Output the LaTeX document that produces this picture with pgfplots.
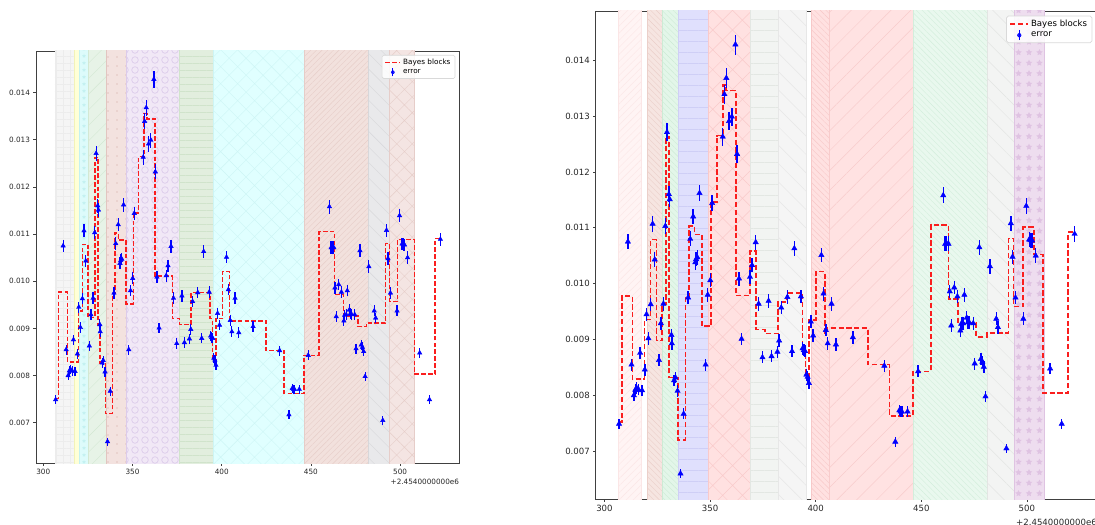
\documentclass[border=0pt]{standalone}
\usepackage{fontspec}
\setmainfont{DejaVu Sans}
\usepackage{pgfplots}
\pgfplotsset{compat=1.18}
\usepackage{pgfplotstable}
\usetikzlibrary{patterns.meta}

\pgfdeclarepattern{
  name=rings,
  bottom left={\pgfpoint{-0.5bp}{-0.5bp}},
  top right={\pgfpoint{10.5bp}{10.5bp}},
  tile size={\pgfpoint{10bp}{10bp}},
  code={\pgfsetlinewidth{0.7bp}\pgfpathcircle{\pgfpoint{5bp}{5bp}}{3.3bp}\pgfusepath{stroke}}
}

\definecolor{bb}{RGB}{250,30,30}
\definecolor{eb}{RGB}{0,0,255}
% left spans
\definecolor{LaF}{HTML}{F5F5F5}\definecolor{LaP}{HTML}{ECECEC}
\definecolor{LbF}{HTML}{FFFFD6}\definecolor{LbP}{HTML}{F2F2B8}
\definecolor{LcF}{HTML}{DDFBFB}\definecolor{LcP}{HTML}{C4F1F1}
\definecolor{LdF}{HTML}{E7F3E7}\definecolor{LdP}{HTML}{D3E8D3}
\definecolor{LeF}{HTML}{F3E2DF}\definecolor{LeP}{HTML}{E2C5C0}
\definecolor{LfF}{HTML}{F1E8F6}\definecolor{LfP}{HTML}{DCCBEA}
\definecolor{LgF}{HTML}{E2EEDE}\definecolor{LgP}{HTML}{D0E3CB}
\definecolor{LhF}{HTML}{E0FFFF}\definecolor{LhP}{HTML}{CDF5F5}
\definecolor{LiF}{HTML}{F2E1DD}\definecolor{LiP}{HTML}{E6CDC8}
\definecolor{LjF}{HTML}{E9E9EB}\definecolor{LjP}{HTML}{D7D7DA}
\definecolor{LkF}{HTML}{F4E5E3}\definecolor{LkP}{HTML}{E6CDC9}
% right spans
\definecolor{RaF}{HTML}{FFF4F4}\definecolor{RaP}{HTML}{FBE6E6}
\definecolor{RbF}{HTML}{F6E5E1}\definecolor{RbP}{HTML}{EBCFC9}
\definecolor{RcF}{HTML}{E3F6E9}\definecolor{RcP}{HTML}{CDEBD5}
\definecolor{RdF}{HTML}{E0E0FD}\definecolor{RdP}{HTML}{CFCFF6}
\definecolor{ReF}{HTML}{FFE1E1}\definecolor{ReP}{HTML}{F9CACA}
\definecolor{RfF}{HTML}{F2F4F2}\definecolor{RfP}{HTML}{E3E7E3}
\definecolor{RgF}{HTML}{F5F5F5}\definecolor{RgP}{HTML}{E7E7E7}
\definecolor{RhF}{HTML}{FFE1E1}\definecolor{RhP}{HTML}{F7C8C8}
\definecolor{RiF}{HTML}{FFE2E2}\definecolor{RiP}{HTML}{F8CCCC}
\definecolor{RjF}{HTML}{E9F8EE}\definecolor{RjP}{HTML}{D3EEDC}
\definecolor{RkF}{HTML}{F3F4F3}\definecolor{RkP}{HTML}{E3E5E3}
\definecolor{RlF}{HTML}{EEDDEF}\definecolor{RlP}{HTML}{DFC3E2}

\newcommand\fL{\fontsize{7.3}{8.5}\selectfont}
\newcommand\fR{\fontsize{8.6}{10}\selectfont}

\pgfplotstableread{
x y e
306.9 0.00749 0.000094
311.1 0.01075 0.000134
312.8 0.00855 0.000107
313.9 0.00800 0.000100
314.6 0.00810 0.000101
315.3 0.00813 0.000102
316.2 0.00810 0.000101
316.9 0.00876 0.000110
317.8 0.00809 0.000101
319.1 0.00846 0.000106
319.9 0.00945 0.000118
320.8 0.00902 0.000113
321.9 0.00963 0.000120
322.8 0.01107 0.000138
323.8 0.01043 0.000130
325.8 0.00863 0.000108
326.7 0.00929 0.000116
327.9 0.00964 0.000121
328.8 0.01103 0.000138
329.6 0.01271 0.000159
330.5 0.01160 0.000145
330.9 0.01151 0.000144
331.7 0.00908 0.000114
331.9 0.00893 0.000112
333.0 0.00827 0.000103
333.6 0.00832 0.000104
334.6 0.00808 0.000101
336.0 0.00660 0.000083
337.5 0.00767 0.000096
339.6 0.00975 0.000122
340.6 0.01080 0.000135
342.0 0.01120 0.000140
343.0 0.01038 0.000130
343.4 0.01044 0.000131
344.0 0.01047 0.000131
345.0 0.01162 0.000145
347.9 0.00855 0.000107
348.9 0.00980 0.000123
350.1 0.01006 0.000126
351.0 0.01144 0.000143
356.0 0.01263 0.000158
356.8 0.01339 0.000167
357.7 0.01368 0.000171
359.0 0.01291 0.000161
360.3 0.01299 0.000162
362.0 0.01428 0.000179
362.8 0.01232 0.000154
363.7 0.01009 0.000126
364.9 0.00901 0.000113
368.9 0.01012 0.000127
369.9 0.01033 0.000129
371.6 0.01074 0.000134
373.0 0.00964 0.000121
374.8 0.00868 0.000109
377.7 0.00969 0.000121
379.1 0.00870 0.000109
381.9 0.00878 0.000110
382.7 0.00898 0.000112
383.7 0.00957 0.000120
386.6 0.00976 0.000122
388.8 0.00879 0.000110
389.9 0.01063 0.000133
393.0 0.00977 0.000122
393.8 0.00884 0.000111
394.4 0.00881 0.000110
395.0 0.00879 0.000110
395.6 0.00837 0.000105
396.2 0.00833 0.000104
396.8 0.00822 0.000103
397.7 0.00932 0.000117
398.8 0.00907 0.000113
402.7 0.01051 0.000131
403.7 0.00982 0.000123
404.8 0.00917 0.000115
405.7 0.00893 0.000112
407.5 0.00964 0.000121
409.6 0.00891 0.000111
417.6 0.00904 0.000113
432.5 0.00853 0.000107
437.7 0.00717 0.000090
439.6 0.00773 0.000097
440.2 0.00771 0.000096
440.8 0.00771 0.000096
443.5 0.00771 0.000096
448.5 0.00843 0.000105
460.4 0.01158 0.000145
461.3 0.01071 0.000134
462.0 0.01072 0.000134
462.9 0.01071 0.000134
463.5 0.00986 0.000123
464.2 0.00925 0.000116
465.6 0.00993 0.000124
467.1 0.00977 0.000122
468.5 0.00916 0.000115
468.9 0.00928 0.000116
469.8 0.00929 0.000116
470.4 0.00980 0.000123
471.5 0.00939 0.000117
472.1 0.00931 0.000116
472.8 0.00930 0.000116
474.6 0.00929 0.000116
475.3 0.00857 0.000107
477.5 0.01065 0.000133
478.2 0.00865 0.000108
478.9 0.00860 0.000108
479.6 0.00851 0.000106
480.4 0.00798 0.000100
482.5 0.01031 0.000129
485.5 0.00937 0.000117
486.3 0.00922 0.000115
490.3 0.00705 0.000088
492.4 0.01108 0.000139
493.2 0.01048 0.000131
494.6 0.00975 0.000122
498.3 0.00937 0.000117
499.7 0.01139 0.000142
501.1 0.01079 0.000135
501.7 0.01078 0.000135
502.5 0.01077 0.000135
504.2 0.01050 0.000131
511.0 0.00848 0.000106
516.5 0.00749 0.000094
522.6 0.01089 0.000136
}\datapts

\pgfplotstableread{
x y
306.9 0.00751
308.4 0.00977
313.6 0.00829
319.6 0.00937
321.9 0.01078
325.0 0.00923
328.9 0.01262
330.7 0.00906
331.8 0.00827
334.8 0.00720
338.7 0.00974
340.2 0.01102
342.1 0.01087
346.4 0.00952
350.5 0.01145
353.3 0.01264
356.4 0.01356
358.0 0.01344
362.6 0.01011
372.3 0.00921
376.3 0.00908
382.8 0.00976
393.5 0.00921
394.8 0.00832
396.8 0.00921
400.6 0.01021
404.3 0.00916
424.9 0.00853
435.0 0.00762
446.2 0.00843
454.6 0.01105
463.2 0.00972
468.2 0.00926
476.3 0.00904
481.3 0.00911
491.8 0.01080
494.0 0.00957
498.7 0.01088
508.0 0.00803
519.6 0.01090
522.8 0.01090
}\stepsL

\pgfplotstableread{
x y
306.8 0.00752
308.4 0.00978
313.2 0.00829
319.0 0.00936
321.8 0.01079
324.7 0.00898
327.3 0.00963
329.0 0.01263
330.6 0.00832
334.8 0.00720
338.4 0.00978
340.1 0.01103
342.6 0.01088
346.1 0.00924
350.3 0.01146
353.2 0.01265
356.0 0.01356
357.6 0.01346
362.2 0.00979
368.9 0.01058
371.8 0.00918
376.0 0.00911
382.3 0.00967
386.5 0.00983
393.8 0.00885
395.2 0.00835
396.7 0.00935
400.1 0.01022
404.3 0.00912
405.3 0.00921
424.7 0.00855
434.9 0.00763
446.1 0.00843
454.5 0.01105
462.9 0.00973
467.4 0.00929
475.8 0.00905
481.0 0.00912
491.3 0.01081
493.7 0.00959
498.3 0.01101
503.3 0.01052
507.7 0.00804
519.5 0.01092
522.5 0.01092
}\stepsR

% span helper: #1 = from, #2 = to, #3 fill colour, #4 pattern, #5 pattern colour
\newcommand\vspan[5]{%
  \addplot[forget plot, mark=none, draw=#5, line width=0.5bp, fill=#3,
    postaction={pattern={#4}, pattern color=#5}]
    coordinates {(#1,0.005) (#1,0.016) (#2,0.016) (#2,0.005)} -- cycle;
}
\newcommand\vspanplain[4]{%
  \addplot[forget plot, mark=none, draw=#4, line width=0.5bp, fill=#3]
    coordinates {(#1,0.005) (#1,0.016) (#2,0.016) (#2,0.005)} -- cycle;
}

\pgfplotsset{
  myaxis/.style={
    scale only axis,
    xmin=295.9, xmax=533.2,
    ymin=0.00614, ymax=0.01488,
    xtick={300,350,400,450,500},
    ytick={0.007,0.008,0.009,0.010,0.011,0.012,0.013,0.014},
    scaled x ticks=false, scaled y ticks=false,
    yticklabel style={/pgf/number format/.cd, fixed, fixed zerofill, precision=3},
    xticklabel style={/pgf/number format/.cd, fixed, precision=0, 1000 sep={}},
    /pgf/number format/assume math mode=true,
    tick align=outside,
    tick pos=left,
    major tick length=2.5bp,
    major tick style={black!75, line width=0.6bp},
    axis line style={black!75, line width=0.7bp},
    ticklabel style={black!85},
    legend cell align=left,
    clip mode=individual,
  }
}

\begin{document}
\begin{tikzpicture}
\useasboundingbox (0,0) rectangle (1095bp,525bp);
\clip (0,0) rectangle (1095bp,525bp);

% ================= LEFT PANEL =================
\begin{axis}[myaxis, name=L,
  at={(36bp,61.7bp)}, anchor=south west,
  width=423.3bp, height=412.3bp,
  ticklabel style={font=\fL},
  legend style={at={(1,1)}, anchor=north east, xshift=-4bp, yshift=-4bp,
    font=\fL, draw=black!15, line width=0.6bp, rounded corners=1.5bp,
    fill=white, fill opacity=0.85, text opacity=1,
    inner xsep=2.5bp, inner ysep=1.5bp, row sep=-0.3bp,
    /tikz/every even column/.append style={column sep=4.5bp}},
]
\vspan{306.5}{317.4}{LaF}{Hatch[angle=0,distance=7bp,line width=0.35bp]}{LaP}
\vspanplain{317.4}{320.2}{LbF}{LbP}
\vspan{320.2}{325.2}{LcF}{Stars[distance=7bp,radius=2bp,points=5]}{LcP}
\vspan{325.2}{335.5}{LdF}{Lines[angle=45,distance=11bp,line width=0.4bp]}{LdP}
\vspan{335.5}{346.4}{LeF}{Dots[distance=9bp,radius=0.8bp]}{LeP}
\vspan{346.4}{376.3}{LfF}{rings}{LfP}
\vspan{376.3}{395.5}{LgF}{Lines[angle=0,distance=7bp,line width=0.5bp]}{LgP}
\vspan{395.5}{446.2}{LhF}{Hatch[angle=45,distance=12bp,line width=0.4bp]}{LhP}
\vspan{446.2}{481.9}{LiF}{Lines[angle=45,distance=4bp,line width=0.4bp]}{LiP}
\vspan{481.9}{494.0}{LjF}{Lines[angle=-45,distance=11bp,line width=0.4bp]}{LjP}
\vspan{494.0}{508.0}{LkF}{Hatch[angle=45,distance=11bp,line width=0.4bp]}{LkP}

\addplot[const plot, mark=none, color=bb, line width=1.45bp, dash pattern=on 4.6bp off 2.2bp,
  legend image code/.code={\draw[bb, line width=1.45bp, dash pattern=on 4.6bp off 2.2bp] (0bp,0bp) -- (15bp,0bp);}]
  table[x=x,y=y] {\stepsL};
\addlegendentry{Bayes blocks}

\addplot[only marks, mark=triangle*, mark size=2.6bp, color=eb,
  error bars/.cd, y dir=both, y explicit, error mark=none,
  error bar style={line width=1.2bp, eb},
  /pgfplots/legend image code/.code={\draw[eb, line width=1.2bp] (7.5bp,-4bp) -- (7.5bp,4bp);
     \fill[eb] (7.5bp,2.6bp) -- (5.25bp,-1.3bp) -- (9.75bp,-1.3bp) -- cycle;}]
  table[x=x,y=y,y error=e] {\datapts};
\addlegendentry{error}
\end{axis}
\node[anchor=east, font=\fL, black!85, inner sep=0pt] at ([yshift=-18.4bp]L.south east) {+2.4540000000e6};

% ================= RIGHT PANEL =================
\begin{axis}[myaxis, name=R,
  at={(595.8bp,25.7bp)}, anchor=south west,
  width=501.2bp, height=488.3bp,
  ticklabel style={font=\fR},
  legend style={at={(1,1)}, anchor=north east, xshift=-4.7bp, yshift=-4.7bp,
    font=\fR, draw=black!15, line width=0.7bp, rounded corners=1.8bp,
    fill=white, fill opacity=0.85, text opacity=1,
    inner xsep=3bp, inner ysep=2bp, row sep=-0.3bp,
    /tikz/every even column/.append style={column sep=6bp}},
]
\vspan{306.5}{317.4}{RaF}{Lines[angle=45,distance=5bp,line width=0.4bp]}{RaP}
\vspan{320.2}{327.5}{RbF}{Lines[angle=-45,distance=4bp,line width=0.4bp]}{RbP}
\vspan{327.5}{335.1}{RcF}{Lines[angle=-45,distance=4bp,line width=0.4bp]}{RcP}
\vspan{335.1}{349.3}{RdF}{Lines[angle=0,distance=11bp,line width=0.6bp]}{RdP}
\vspan{349.3}{369.1}{ReF}{Hatch[angle=45,distance=14bp,line width=0.5bp]}{ReP}
\vspan{369.1}{382.4}{RfF}{Lines[angle=0,distance=11bp,line width=0.5bp]}{RfP}
\vspan{382.4}{395.3}{RgF}{Lines[angle=-45,distance=13bp,line width=0.5bp]}{RgP}
\vspan{397.9}{406.6}{RhF}{Lines[angle=-45,distance=4bp,line width=0.4bp]}{RhP}
\vspan{406.6}{446.2}{RiF}{Lines[angle=45,distance=14bp,line width=0.5bp]}{RiP}
\vspan{446.2}{481.3}{RjF}{Lines[angle=-45,distance=4bp,line width=0.4bp]}{RjP}
\vspan{481.3}{494.2}{RkF}{Lines[angle=-45,distance=13bp,line width=0.5bp]}{RkP}
\vspan{494.2}{508.1}{RlF}{Stars[distance=10.5bp,radius=3.3bp,points=5]}{RlP}

\addplot[const plot, mark=none, color=bb, line width=1.65bp, dash pattern=on 5.2bp off 2.6bp,
  legend image code/.code={\draw[bb, line width=1.65bp, dash pattern=on 5.2bp off 2.6bp] (0bp,0bp) -- (18bp,0bp);}]
  table[x=x,y=y] {\stepsR};
\addlegendentry{Bayes blocks}

\addplot[only marks, mark=triangle*, mark size=3.1bp, color=eb,
  error bars/.cd, y dir=both, y explicit, error mark=none,
  error bar style={line width=1.4bp, eb},
  /pgfplots/legend image code/.code={\draw[eb, line width=1.4bp] (9bp,-4.8bp) -- (9bp,4.8bp);
     \fill[eb] (9bp,3.1bp) -- (6.3bp,-1.55bp) -- (11.7bp,-1.55bp) -- cycle;}]
  table[x=x,y=y,y error=e] {\datapts};
\addlegendentry{error}
\end{axis}
\node[anchor=east, font=\fR, black!85, inner sep=0pt] at ([yshift=-23bp]R.south east) {+2.4540000000e6};
\end{tikzpicture}
\end{document}
